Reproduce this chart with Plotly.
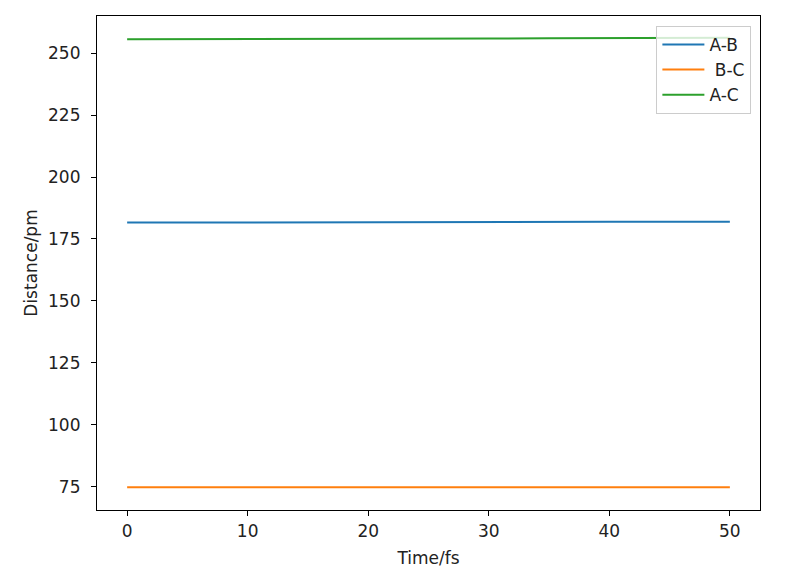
import plotly.graph_objects as go

time_fs = [0, 5, 10, 15, 20, 25, 30, 35, 40, 45, 50]
ab = [181.6, 181.6, 181.6, 181.65, 181.7, 181.75, 181.8, 181.85, 181.9, 181.95, 182.0]
bc = [74.8, 74.8, 74.8, 74.8, 74.8, 74.8, 74.8, 74.8, 74.75, 74.75, 74.75]
ac = [255.6, 255.6, 255.65, 255.7, 255.75, 255.8, 255.9, 256.0, 256.05, 256.15, 256.25]

fig = go.Figure()
fig.add_trace(go.Scatter(x=time_fs, y=ab, mode="lines", name="A-B",
                         line=dict(color="#1f77b4", width=2)))
fig.add_trace(go.Scatter(x=time_fs, y=bc, mode="lines", name=" B-C",
                         line=dict(color="#ff7f0e", width=2)))
fig.add_trace(go.Scatter(x=time_fs, y=ac, mode="lines", name="A-C",
                         line=dict(color="#2ca02c", width=2)))

axis_common = dict(showline=True, linecolor="black", linewidth=1.2, mirror=True,
                   ticks="outside", ticklen=5, tickcolor="black", showgrid=False,
                   zeroline=False, tickfont=dict(size=17, color="#222"))
fig.update_layout(
    width=800, height=578,
    margin=dict(l=89, r=48, t=8, b=76),
    paper_bgcolor="white", plot_bgcolor="white",
    font=dict(family="DejaVu Sans", size=17, color="#222"),
    showlegend=True,
    legend=dict(x=0.987, y=0.98, xanchor="right", yanchor="top",
                bgcolor="rgba(255,255,255,0.8)", bordercolor="#cccccc", borderwidth=1,
                font=dict(size=17), tracegroupgap=0, itemwidth=42),
    xaxis=dict(range=[-2.5, 52.5], tickvals=[0, 10, 20, 30, 40, 50],
               title=dict(text="Time/fs", standoff=12, font=dict(size=17)), **axis_common),
    yaxis=dict(range=[65.6, 265.0], tickvals=[75, 100, 125, 150, 175, 200, 225, 250],
               ticklabelstandoff=7,
               title=dict(text="Distance/pm", standoff=6, font=dict(size=17)), **axis_common),
)
fig.write_html("out.html")
